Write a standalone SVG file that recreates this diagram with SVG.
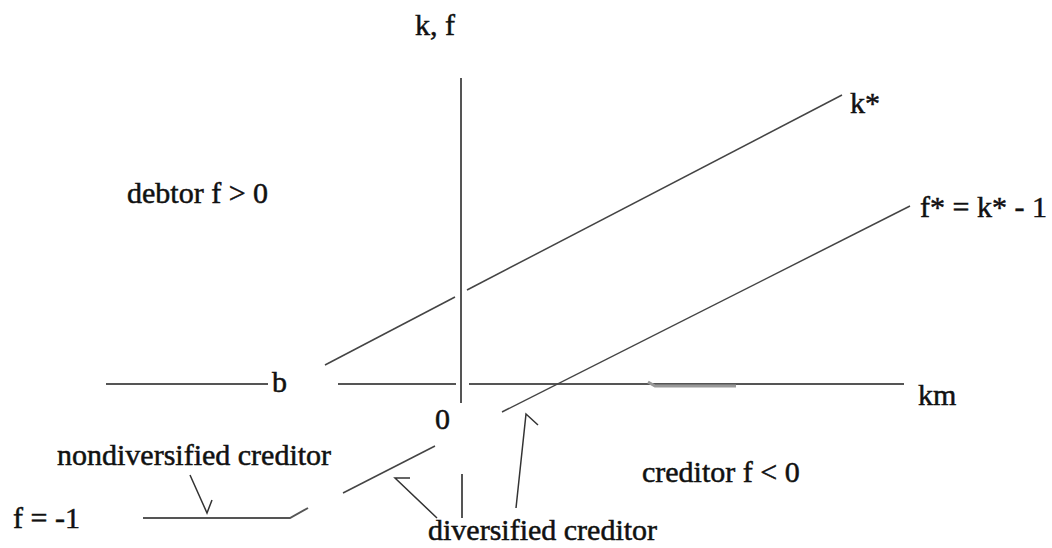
<svg xmlns="http://www.w3.org/2000/svg" width="1052" height="548" viewBox="0 0 1052 548">
<style>
.ax{stroke:#555;stroke-width:2;fill:none}
.ln{stroke:#444;stroke-width:1.5;fill:none}
.ar{stroke:#333;stroke-width:1.5;fill:none;stroke-linejoin:miter}
text{font-family:"Liberation Serif","Times New Roman",serif;font-size:30px;fill:#111;stroke:#111;stroke-width:0.5}
</style>
<rect width="1052" height="548" fill="#fff"/>
<g id="axes">
<line class="ax" x1="461" y1="78" x2="461" y2="403"/>
<line class="ax" x1="462" y1="474" x2="462" y2="518"/>
<line class="ax" x1="106" y1="384" x2="268" y2="384"/>
<line class="ax" x1="338" y1="384" x2="456" y2="384"/>
<line class="ax" x1="469" y1="384" x2="904" y2="384"/>
<polyline points="648,382 655,386 736,386" stroke="#999" stroke-width="3" fill="none"/>
</g>
<g id="curves">
<line class="ln" x1="325" y1="365" x2="455" y2="297"/>
<line class="ln" x1="467" y1="290" x2="842" y2="95"/>
<line class="ln" x1="502" y1="412" x2="910" y2="206"/>
<line class="ln" x1="343" y1="493" x2="435" y2="446"/>
<polyline class="ax" points="143,518 290,518 308,508"/>
</g>
<g id="connectors">
<polyline class="ar" points="190,475 207,513 212,500"/>
<polyline class="ar" points="410,478 395,478 437,518"/>
<polyline class="ar" points="538,425 526,414 516,508"/>
</g>
<g id="labels">
<text x="415" y="35">k, f</text>
<text x="127" y="203">debtor f &gt; 0</text>
<text x="850" y="113">k*</text>
<text x="920" y="217">f* = k* - 1</text>
<text x="272" y="392">b</text>
<text x="918" y="405">km</text>
<text x="435" y="429">0</text>
<text x="57" y="465">nondiversified creditor</text>
<text x="642" y="482">creditor f &lt; 0</text>
<text x="13" y="528">f = -1</text>
<text x="428" y="540">diversified creditor</text>
</g>
</svg>
